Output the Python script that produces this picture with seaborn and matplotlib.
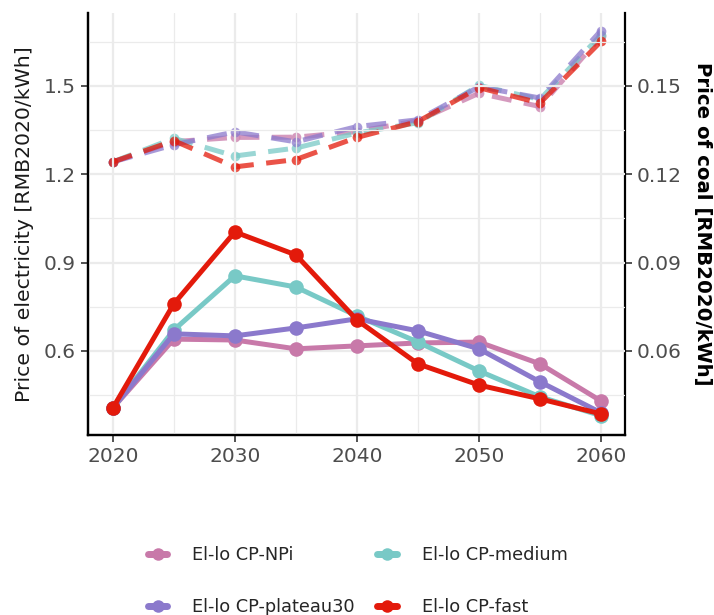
import matplotlib
matplotlib.use("Agg")
import matplotlib.pyplot as plt
from matplotlib.lines import Line2D
from matplotlib.ticker import MultipleLocator
import pandas as pd
import seaborn as sns

# Data
years = [2020, 2025, 2030, 2035, 2040, 2045, 2050, 2055, 2060]
scenarios = ["El-lo CP-NPi", "El-lo CP-medium", "El-lo CP-plateau30", "El-lo CP-fast"]
colors = ["#C879A9", "#78C9C6", "#8B79CC", "#E31A0B"]

# price of electricity (left axis)
elec_npi = [0.406, 0.640, 0.637, 0.607, 0.617, 0.627, 0.630, 0.556, 0.430]
elec_medium = [0.406, 0.671, 0.855, 0.817, 0.719, 0.630, 0.532, 0.444, 0.380]
elec_plateau30 = [0.406, 0.658, 0.651, 0.678, 0.709, 0.668, 0.607, 0.495, 0.390]
elec_fast = [0.406, 0.760, 1.004, 0.926, 0.705, 0.556, 0.484, 0.437, 0.386]

# price of coal (right axis)
coal_npi = [0.1242, 0.1311, 0.1325, 0.1326, 0.1345, 0.1382, 0.1475, 0.1430, 0.1668]
coal_medium = [0.1242, 0.1322, 0.1262, 0.1289, 0.1340, 0.1375, 0.1502, 0.1454, 0.1673]
coal_plateau30 = [0.1242, 0.1300, 0.1344, 0.1310, 0.1362, 0.1385, 0.1497, 0.1459, 0.1688]
coal_fast = [0.1242, 0.1314, 0.1225, 0.1250, 0.1325, 0.1379, 0.1494, 0.1442, 0.1651]

elec_values = [elec_npi, elec_medium, elec_plateau30, elec_fast]
coal_values = [coal_npi, coal_medium, coal_plateau30, coal_fast]

elec = pd.DataFrame([(s, y, v) for s, vals in zip(scenarios, elec_values) for y, v in zip(years, vals)],
                    columns=["scenario", "year", "value"])
coal = pd.DataFrame([(s, y, v) for s, vals in zip(scenarios, coal_values) for y, v in zip(years, vals)],
                    columns=["scenario", "year", "value"])
palette = dict(zip(scenarios, colors))

sns.set_theme(style="white")
plt.rcParams["font.family"] = ["DejaVu Sans"]

fig, ax = plt.subplots(figsize=(7.14, 6.15), dpi=100)
fig.subplots_adjust(left=0.123, right=0.875, top=0.979, bottom=0.293)

ax2 = ax.twinx()
ax.set_zorder(ax2.get_zorder() + 1)
ax.patch.set_visible(False)

sns.lineplot(data=elec, x="year", y="value", hue="scenario", palette=palette,
             marker="o", markersize=10.5, markeredgewidth=0, linewidth=3.6,
             ax=ax, legend=False)
sns.lineplot(data=coal, x="year", y="value", hue="scenario", palette=palette,
             marker="o", markersize=7, markeredgewidth=0, linewidth=3.6,
             linestyle="--", dashes=False, alpha=0.75, ax=ax2, legend=False)
for line in ax2.get_lines():
    line.set_dashes([4, 2.5])

ylo, yhi = 0.315, 1.748
ax.set_ylim(ylo, yhi)
ax2.set_ylim(ylo / 10, yhi / 10)
ax.set_xlim(2017.95, 2061.95)

ax.set_yticks([0.6, 0.9, 1.2, 1.5])
ax.yaxis.set_minor_locator(MultipleLocator(0.15))
ax.set_xticks([2020, 2030, 2040, 2050, 2060])
ax.xaxis.set_minor_locator(MultipleLocator(5))
ax2.set_yticks([0.06, 0.09, 0.12, 0.15])
ax2.set_yticklabels(["0.06", "0.09", "0.12", "0.15"])

ax2.grid(False)
ax.grid(True, which="major", color="#EBEBEB", linewidth=1.6)
ax.grid(True, which="minor", color="#EBEBEB", linewidth=0.9)
ax.set_axisbelow(True)

ax.set_xlabel("")
ax.set_ylabel("Price of electricity [RMB2020/kWh]", fontsize=14.7, color="#1A1A1A", labelpad=7)
ax2.set_ylabel("Price of coal [RMB2020/kWh]", fontsize=14.2, fontweight="bold",
               color="black", rotation=270, labelpad=22)

for a in (ax, ax2):
    a.tick_params(axis="both", which="major", labelsize=14.5, labelcolor="#4D4D4D",
                  color="#333333", length=5, width=1.2)
    a.tick_params(axis="both", which="minor", length=0)
    a.spines["top"].set_visible(False)
    for side in ["left", "bottom", "right"]:
        a.spines[side].set_color("black")
        a.spines[side].set_linewidth(1.6)
ax.tick_params(axis="x", bottom=True)
ax.tick_params(axis="y", left=True)
ax2.tick_params(axis="y", right=True)
ax.spines["right"].set_visible(False)

# legend rows: NPi / medium, plateau30 / fast (matplotlib fills columns first)
order = [0, 2, 1, 3]
handles = [Line2D([0], [0], color=colors[i], linewidth=5, marker="o", markersize=9,
                  markeredgewidth=0) for i in order]
fig.legend(handles, [scenarios[i] for i in order], loc="lower center", ncol=2, frameon=False,
           bbox_to_anchor=(0.501, -0.028), fontsize=12.8, labelspacing=1.9,
           columnspacing=1.25, handlelength=1.1, handletextpad=1.4)

fig.savefig("out.png", dpi=100)
